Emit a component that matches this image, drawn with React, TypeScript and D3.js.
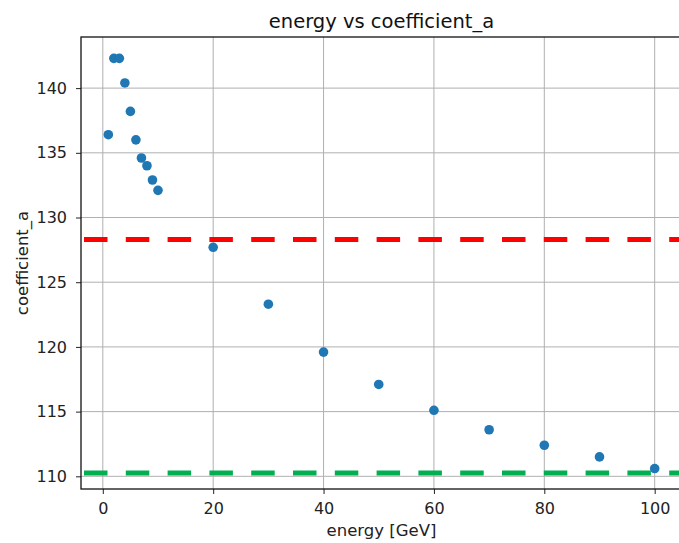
import React, { useEffect, useRef } from 'react';
import * as d3 from 'd3';

const energies = [1, 2, 3, 4, 5, 6, 7, 8, 9, 10, 20, 30, 40, 50, 60, 70, 80, 90, 100];
const coefficients = [136.4, 142.3, 142.3, 140.4, 138.2, 136.0, 134.6, 134.0, 132.9, 132.1,
    127.7, 123.3, 119.6, 117.1, 115.1, 113.6, 112.4, 111.5, 110.6];
const xTicks = [0, 20, 40, 60, 80, 100];
const yTicks = [110, 115, 120, 125, 130, 135, 140];
const upperLimit = 128.3;
const lowerLimit = 110.25;

const App = () => {
    const svgRef = useRef<SVGSVGElement>(null);
    const width = 679;
    const height = 543;

    useEffect(() => {
        const svg = d3.select(svgRef.current);
        svg.selectAll("*").remove();

        const left = 81, right = 682, top = 37, bottom = 489;
        const font = "'DejaVu Sans', sans-serif";

        const x = d3.scaleLinear().domain([-3.95, 104.95]).range([left, right]);
        const y = d3.scaleLinear().domain([109.02, 143.95]).range([bottom, top]);

        // grid
        const grid = svg.append("g").attr("stroke", "#b0b0b0").attr("stroke-width", 1);
        grid.selectAll(".gx").data(xTicks).enter().append("line")
            .attr("x1", d => x(d)).attr("x2", d => x(d))
            .attr("y1", top).attr("y2", bottom);
        grid.selectAll(".gy").data(yTicks).enter().append("line")
            .attr("x1", left).attr("x2", right)
            .attr("y1", d => y(d)).attr("y2", d => y(d));

        // axes
        svg.append("g")
            .attr("transform", `translate(0,${bottom})`)
            .call(d3.axisBottom(x).tickValues(xTicks).tickSize(5).tickPadding(9).tickFormat(d3.format("d")))
            .call(g => g.select(".domain").remove())
            .call(g => g.selectAll("text").attr("font-size", 16).attr("font-family", font).attr("fill", "#222"))
            .call(g => g.selectAll("line").attr("stroke", "#222"));

        svg.append("g")
            .attr("transform", `translate(${left},0)`)
            .call(d3.axisLeft(y).tickValues(yTicks).tickSize(5).tickPadding(9).tickFormat(d3.format("d")))
            .call(g => g.select(".domain").remove())
            .call(g => g.selectAll("text").attr("font-size", 16).attr("font-family", font).attr("fill", "#222"))
            .call(g => g.selectAll("line").attr("stroke", "#222"));

        // limit lines
        svg.append("line")
            .attr("x1", left).attr("x2", right)
            .attr("y1", y(upperLimit)).attr("y2", y(upperLimit))
            .attr("stroke", "#ff0000").attr("stroke-width", 5)
            .attr("stroke-dasharray", "23.5 18.3").attr("stroke-dashoffset", -3);
        svg.append("line")
            .attr("x1", left).attr("x2", right)
            .attr("y1", y(lowerLimit)).attr("y2", y(lowerLimit))
            .attr("stroke", "#00b050").attr("stroke-width", 5)
            .attr("stroke-dasharray", "23.5 18.3").attr("stroke-dashoffset", -3);

        // points
        svg.selectAll(".pt")
            .data(energies)
            .enter()
            .append("circle")
            .attr("cx", d => x(d))
            .attr("cy", (d, i) => y(coefficients[i]))
            .attr("r", 4.8)
            .attr("fill", "#1f77b4");

        // frame
        svg.append("rect")
            .attr("x", left).attr("y", top)
            .attr("width", right - left).attr("height", bottom - top)
            .attr("fill", "none").attr("stroke", "#111").attr("stroke-width", 1.3);

        // labels
        svg.append("text")
            .attr("x", (left + right) / 2).attr("y", 28)
            .attr("text-anchor", "middle")
            .attr("font-family", font).attr("font-size", 19.5).attr("fill", "#111")
            .text("energy vs coefficient_a");

        svg.append("text")
            .attr("x", (left + right) / 2).attr("y", 536)
            .attr("text-anchor", "middle")
            .attr("font-family", font).attr("font-size", 16.5).attr("fill", "#222")
            .text("energy [GeV]");

        svg.append("text")
            .attr("transform", `translate(28,${(top + bottom) / 2}) rotate(-90)`)
            .attr("text-anchor", "middle")
            .attr("font-family", font).attr("font-size", 16.5).attr("fill", "#222")
            .text("coefficient_a");
    }, []);

    return (
        <svg ref={svgRef} width={width} height={height}
            style={{ position: 'absolute', left: 0, top: 0, background: '#fff' }}></svg>
    );
};

export default App;
